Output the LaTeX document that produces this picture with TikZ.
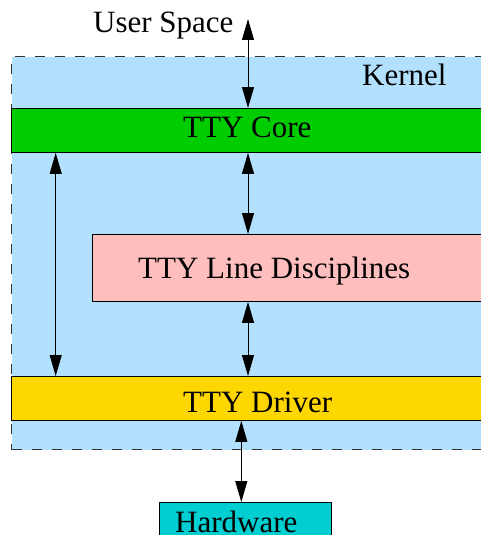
\documentclass[tikz,border=0pt]{standalone}
\usepackage{fontspec}
\setmainfont{Liberation Serif}
\usetikzlibrary{arrows.meta}
\definecolor{kernelblue}{RGB}{178,224,253}
\definecolor{coregreen}{RGB}{0,205,0}
\definecolor{ldpink}{RGB}{255,190,190}
\definecolor{drvgold}{RGB}{255,215,0}
\definecolor{hwcyan}{RGB}{0,206,209}
\begin{document}
\begin{tikzpicture}[x=1pt, y=-1pt,
  layer/.style={draw=black, line width=0.9pt, inner sep=0pt, anchor=north west},
  lbl/.style={anchor=base west, inner sep=0pt, font=\fontsize{31}{37}\selectfont},
  link/.style={{Triangle[length=21pt,width=12pt]}-{Triangle[length=21pt,width=12pt]}, line width=1pt}]
\useasboundingbox (0,0) rectangle (481,535);
\clip (0,0) rectangle (481,535);
% layers
\node[layer, draw=black!80, line width=1.2pt, dash pattern=on 10pt off 10pt, fill=kernelblue,
      minimum width=520pt, minimum height=393pt] (kernel) at (11,56) {};
\node[layer, fill=coregreen, minimum width=520pt, minimum height=44pt] (core) at (11,108) {};
\node[layer, fill=ldpink, minimum width=440pt, minimum height=67pt] (ldisc) at (92,234) {};
\node[layer, fill=drvgold, minimum width=520pt, minimum height=44pt] (driver) at (11,376) {};
\node[layer, fill=hwcyan, minimum width=172pt, minimum height=60pt] (hw) at (159,502) {};
% labels
\node[lbl] (tuser) at (93,33) {User Space};
\node[lbl] (tkernel) at (362,85) {Kernel};
\node[lbl] (tcore) at (183,137) {TTY Core};
\node[lbl] (tldisc) at (138,278) {TTY Line Disciplines};
\node[lbl] (tdriver) at (183,412) {TTY Driver};
\node[lbl] (thw) at (175,532) {Hardware};
% connectors
\coordinate (usr) at (248,19);
\coordinate (lx) at (55.7,0);
\coordinate (hx) at (241.3,0);
\draw[link] (usr) -- (usr |- core.north);
\draw[link] (lx |- core.south) -- (lx |- driver.north);
\draw[link] (usr |- core.south) -- (usr |- ldisc.north);
\draw[link] (usr |- ldisc.south) -- (usr |- driver.north);
\draw[link] (hx |- driver.south) -- (hx |- hw.north);
\end{tikzpicture}
\end{document}
